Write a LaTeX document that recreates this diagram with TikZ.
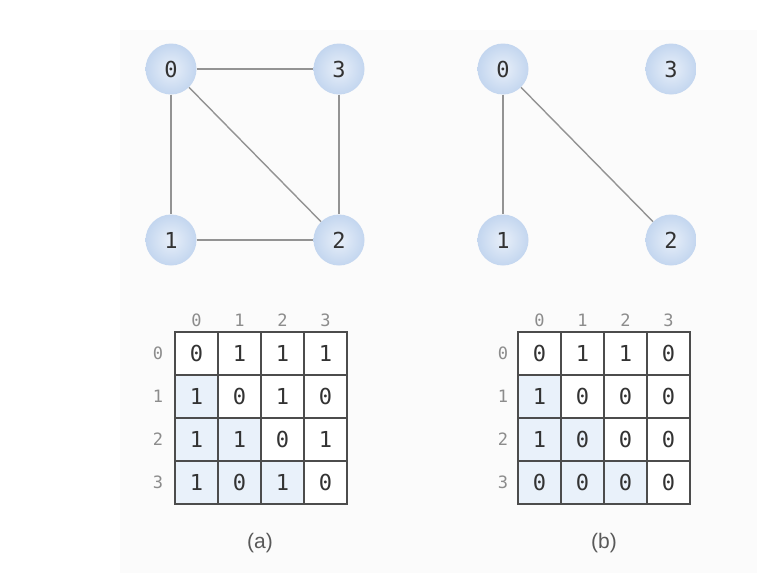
\documentclass[tikz,border=0pt]{standalone}
\usepackage{fontspec}
\setmonofont{DejaVu Sans Mono}
\setsansfont{Liberation Sans}
\usepackage{tikz}

\definecolor{vertexrim}{HTML}{C3D6EF}
\definecolor{vertexcore}{HTML}{E8EFF9}
\definecolor{lowercell}{HTML}{E9F1FA}
\definecolor{panelbg}{HTML}{FBFBFB}

\tikzset{
  vertex/.style={circle,minimum size=51pt,inner sep=0pt,shading=radial,
    inner color=vertexcore,outer color=vertexrim,text=black!80,
    font=\ttfamily\fontsize{22}{22}\selectfont},
  edge/.style={draw=gray!85,line width=1.4pt},
  cell/.style={draw=black!70,line width=1.2pt,minimum size=43pt,inner sep=0pt,
    text=black!80,font=\ttfamily\fontsize{22}{22}\selectfont},
  idx/.style={text=gray!90,font=\ttfamily\fontsize{17}{17}\selectfont},
  caption/.style={text=black!65,font=\sffamily\fontsize{21}{21}\selectfont},
}

\begin{document}
\begin{tikzpicture}[x=1pt,y=-1pt]
  \useasboundingbox (0,0) rectangle (770,573);
  \fill[panelbg] (120,30) rectangle (757,573);

  % graph (a)
  \node[vertex] (a0) at (171,69) {0};
  \node[vertex] (a3) at (339,69) {3};
  \node[vertex] (a1) at (171,240) {1};
  \node[vertex] (a2) at (339,240) {2};
  \draw[edge] (a0) -- (a3);
  \draw[edge] (a0) -- (a1);
  \draw[edge] (a0) -- (a2);
  \draw[edge] (a3) -- (a2);
  \draw[edge] (a1) -- (a2);

  % graph (b)
  \node[vertex] (b0) at (503,69) {0};
  \node[vertex] (b3) at (671,69) {3};
  \node[vertex] (b1) at (503,240) {1};
  \node[vertex] (b2) at (671,240) {2};
  \draw[edge] (b0) -- (b1);
  \draw[edge] (b0) -- (b2);

  % matrix (a)
  \foreach \vals [count=\r from 0] in {{0,1,1,1},{1,0,1,0},{1,1,0,1},{1,0,1,0}}
    \foreach \v [count=\c from 0] in \vals {
      \ifnum\r>\c \def\cellfill{lowercell}\else\def\cellfill{white}\fi
      \node[cell,fill=\cellfill] (ma-\r-\c) at (196.5+43*\c,353.5+43*\r) {\v};
    }
  \foreach \i in {0,...,3} {
    \node[idx] (ma-col\i) at (196.5+43*\i,320) {\i};
    \node[idx] (ma-row\i) at (158,353.5+43*\i) {\i};
  }
  \node[caption] (capa) at (260,543) {(a)};

  % matrix (b)
  \foreach \vals [count=\r from 0] in {{0,1,1,0},{1,0,0,0},{1,0,0,0},{0,0,0,0}}
    \foreach \v [count=\c from 0] in \vals {
      \ifnum\r>\c \def\cellfill{lowercell}\else\def\cellfill{white}\fi
      \node[cell,fill=\cellfill] (mb-\r-\c) at (539.5+43*\c,353.5+43*\r) {\v};
    }
  \foreach \i in {0,...,3} {
    \node[idx] (mb-col\i) at (539.5+43*\i,320) {\i};
    \node[idx] (mb-row\i) at (503,353.5+43*\i) {\i};
  }
  \node[caption] (capb) at (604,543) {(b)};
\end{tikzpicture}
\end{document}
